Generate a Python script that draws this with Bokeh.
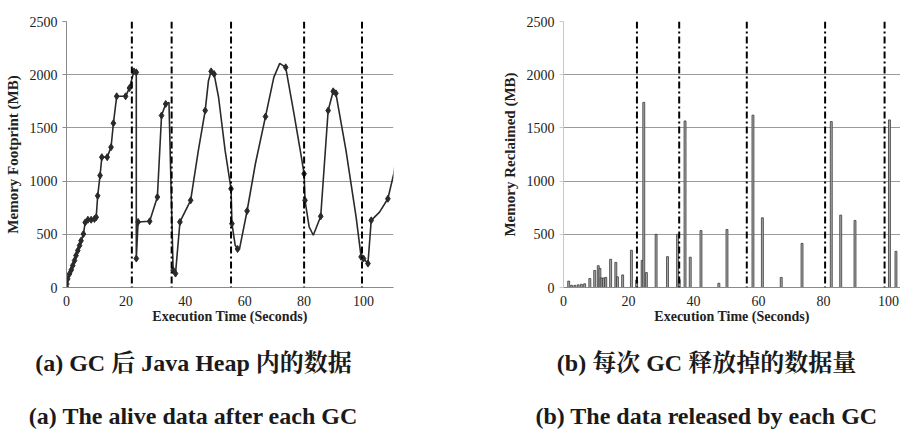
from bokeh.plotting import figure
from bokeh.layouts import row, column
from bokeh.models import Span, FixedTicker, Range1d
from bokeh.core.properties import value
from bokeh.embed import file_html
from bokeh.resources import INLINE

# ---------------- data: (a) alive data after each GC ----------------
heap_t = [0, 0.1, 0.4, 1.0, 1.6, 2.1, 2.7, 3.2, 3.8, 4.4, 4.9, 5.7, 6.3, 7.2, 8.3, 9.4, 10.0,
          10.5, 11.3, 11.9, 13.7, 15.0, 15.8, 16.9, 19.9, 21.2, 22.7, 23.5, 23.5, 24.1, 28.0,
          30.6, 32.0, 33.4, 34.5, 35.9, 36.7, 38.2, 41.8, 44.4, 46.7, 47.8, 48.7, 49.7, 51.2,
          53.4, 55.4, 55.7, 56.8, 57.6, 58.2, 60.8, 63.6, 67.0, 69.8, 71.8, 73.8, 76.6, 78.9,
          80.0, 80.3, 81.7, 83.1, 85.6, 88.1, 89.8, 90.7, 94.1, 97.5, 99.2, 100.0, 101.5,
          102.6, 105.4, 108.2, 110.2, 111.6]
heap_mb = [0, 34, 81, 128, 165, 206, 253, 300, 347, 394, 440, 503, 612, 637, 637, 644, 660,
           862, 1053, 1225, 1225, 1319, 1544, 1797, 1797, 1875, 2031, 2022, 272, 616, 622,
           850, 1616, 1725, 1740, 163, 131, 616, 819, 1288, 1663, 1944, 2031, 2006, 1788,
           1288, 928, 600, 397, 362, 356, 719, 1163, 1606, 1975, 2106, 2069, 1631, 1256,
           1069, 819, 569, 491, 669, 1663, 1844, 1825, 1288, 663, 288, 272, 225,
           631, 709, 834, 1069, 1350]
gc_t = [0, 0.1, 0.4, 1.0, 1.6, 2.1, 2.7, 3.2, 3.8, 4.4, 4.9, 5.7, 6.3, 7.2, 8.3, 9.4, 10.0,
        10.5, 11.3, 11.9, 13.7, 15.0, 15.8, 16.9, 19.9, 21.2, 22.7, 23.5, 23.5, 24.1, 28.0,
        30.6, 32.0, 33.4, 35.9, 36.7, 38.2, 41.8, 46.7, 48.7, 49.7, 55.4, 55.7, 57.6,
        60.8, 67.0, 73.8, 80.0, 80.3, 85.6, 88.1, 89.8, 90.7, 99.2, 100.0, 101.5, 102.6, 108.2]
gc_mb = [0, 34, 81, 128, 165, 206, 253, 300, 347, 394, 440, 503, 612, 637, 637, 644, 660,
         862, 1053, 1225, 1225, 1319, 1544, 1797, 1797, 1875, 2031, 2022, 272, 616, 622,
         850, 1616, 1725, 163, 131, 616, 819, 1663, 2031, 2006, 928, 600, 362,
         719, 1606, 2069, 1069, 819, 669, 1663, 1844, 1825, 288, 272, 225, 631, 834]
full_gc_a = [22.0, 35.4, 55.4, 80.0, 99.5]

# ---------------- data: (b) data released by each GC ----------------
rec_t = [1.6, 2.5, 3.5, 4.5, 5.5, 6.5, 8.1, 9.6, 10.7, 11.2, 11.6, 12.3, 13.0, 14.5, 16.1,
         16.6, 18.2, 20.9, 22.5, 24.2, 24.7, 25.5, 28.5, 32.0, 35.1, 35.6, 37.4, 39.0, 42.3,
         47.8, 50.3, 58.3, 61.2, 67.0, 73.4, 82.4, 85.3, 89.7, 100.3, 102.3]
rec_mb = [60, 20, 20, 25, 30, 35, 85, 160, 205, 180, 90, 90, 95, 265, 236,
          100, 118, 350, 70, 255, 1740, 140, 500, 290, 500, 75, 1565, 285, 535,
          40, 545, 1620, 655, 95, 415, 1560, 680, 630, 1575, 340]
full_gc_b = [22.6, 35.6, 56.4, 80.5, 98.8]

x_ticks = [0, 20, 40, 60, 80, 100]
y_ticks = [0, 500, 1000, 1500, 2000, 2500]
x_title = "Execution Time (Seconds)"
y_title_a = "Memory Footprint (MB)"
y_title_b = "Memory Reclaimed (MB)"
captions = ["(a) GC 后 Java Heap 内的数据", "(a) The alive data after each GC",
            "(b) 每次 GC 释放掉的数据量", "(b) The data released by each GC"]

SERIF = "Liberation Serif"
CAP_FONT = "Liberation Serif, Noto Serif CJK SC, Noto Sans CJK SC"


def style(p, y_title):
    p.outline_line_color = None
    p.background_fill_color = "white"
    p.border_fill_color = "white"
    p.xgrid.grid_line_color = None
    p.ygrid.grid_line_color = "#9a9a9a"
    p.ygrid.grid_line_width = 1
    p.xaxis.ticker = FixedTicker(ticks=x_ticks)
    p.yaxis.ticker = FixedTicker(ticks=y_ticks)
    for ax in (p.xaxis[0], p.yaxis[0]):
        ax.axis_line_color = "#8a8a8a"
        ax.minor_tick_line_color = None
        ax.major_label_text_font = SERIF
        ax.major_label_text_font_size = "14px"
        ax.major_label_text_color = "#222222"
        ax.axis_label_text_font = SERIF
        ax.axis_label_text_font_style = "bold"
        ax.axis_label_text_color = "#222222"
    p.xaxis.major_tick_line_color = None
    p.xaxis.major_tick_out = 0
    p.xaxis.major_tick_in = 0
    p.xaxis.major_label_standoff = 8
    p.xaxis.axis_label = x_title
    p.xaxis.axis_label_text_font_size = "14px"
    p.xaxis.axis_label_standoff = 0
    p.yaxis.major_tick_line_color = "#8a8a8a"
    p.yaxis.major_tick_out = 4
    p.yaxis.major_tick_in = 0
    p.yaxis.major_label_standoff = 5
    p.yaxis.axis_label = y_title
    p.yaxis.axis_label_text_font_size = "15px"
    p.yaxis.axis_label_standoff = 6


CH = 330  # height of the chart row

# ---------------- figure (a) ----------------
p1 = figure(width=450, height=CH, output_backend="svg", toolbar_location=None,
            x_range=Range1d(0, 110.1), y_range=Range1d(0, 2500),
            min_border_left=66, min_border_right=57, min_border_top=21, min_border_bottom=CH - 287)
style(p1, y_title_a)
for t in full_gc_a:
    p1.add_layout(Span(location=t, dimension="height", line_color="black",
                       line_width=2, line_dash="7 3 2 3"))
p1.line(heap_t, heap_mb, line_color="#2a2a2a", line_width=1.6)
p1.scatter(gc_t, gc_mb, marker="diamond", size=7, fill_color="#2a2a2a", line_color="#2a2a2a")

# ---------------- figure (b) ----------------
p2 = figure(width=450, height=CH, output_backend="svg", toolbar_location=None,
            x_range=Range1d(0, 103.7), y_range=Range1d(0, 2500),
            min_border_left=113, min_border_right=0, min_border_top=12, min_border_bottom=CH - 287)
style(p2, y_title_b)
p2.yaxis.axis_line_color = "#c8c8c8"
p2.yaxis.major_tick_line_color = "#c8c8c8"
p2.vbar(x=rec_t, top=rec_mb, width=0.6, fill_color="#a8a8a8", line_color="#3a3a3a", line_width=0.8)
for t in full_gc_b:
    p2.add_layout(Span(location=t, dimension="height", line_color="black",
                       line_width=2, line_dash="7 3 2 3"))

# ---------------- captions strip ----------------
CAP_H = 434 - CH
pc = figure(width=900, height=CAP_H, output_backend="svg", toolbar_location=None,
            x_range=Range1d(0, 900), y_range=Range1d(0, CAP_H), min_border=0)
pc.axis.visible = False
pc.grid.grid_line_color = None
pc.outline_line_color = None
pc.text(x=[193, 193, 706, 706], y=[CAP_H - 32, CAP_H - 85, CAP_H - 32, CAP_H - 85],
        text=captions, text_align="center", text_baseline="middle",
        text_font=value(CAP_FONT), text_font_size="24px", text_font_style="bold",
        text_color="#1a1a1a")

layout = column(row(p1, p2), pc)
open("out.html", "w").write(file_html(layout, INLINE))
